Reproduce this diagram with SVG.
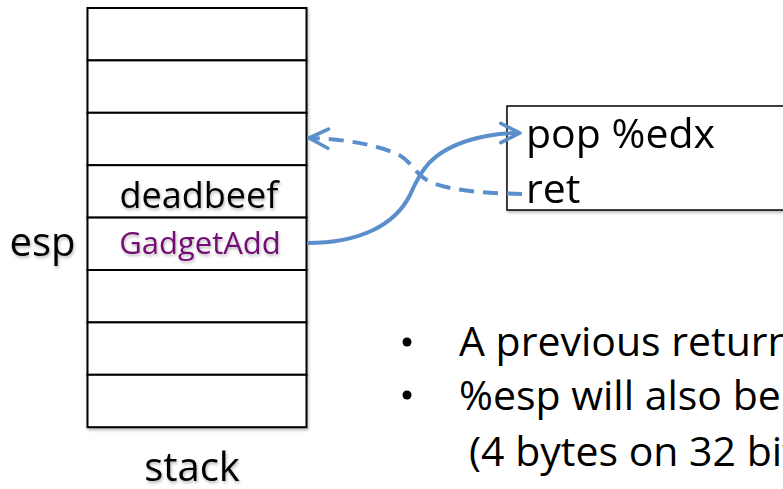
<svg xmlns="http://www.w3.org/2000/svg" width="783" height="489" viewBox="0 0 783 489">
  <defs>
    <filter id="shadow" x="-10%" y="-10%" width="130%" height="140%">
      <feDropShadow dx="1" dy="2" stdDeviation="1.5" flood-color="#000" flood-opacity="0.28"/>
    </filter>
    <marker id="chevron" viewBox="0 0 10 10" refX="9" refY="5" markerWidth="6" markerHeight="6" orient="auto-start-reverse" markerUnits="strokeWidth">
      <path d="M1,1 L9,5 L1,9" fill="none" stroke="#5b8fcb" stroke-width="1.5" stroke-linecap="round" stroke-linejoin="round"/>
    </marker>
    <style>
      text { font-family: "Open Sans", "Liberation Sans", sans-serif; fill: #000; }
      .cell { fill: #fff; stroke: #000; stroke-width: 2; }
      .label { font-size: 40px; }
      .code { font-size: 41px; }
      .bullet { font-size: 41px; }
      .link { fill: none; stroke: #5b8fcb; stroke-width: 4; stroke-linecap: butt; }
      .shade { filter: url(#shadow); }
    </style>
  </defs>

  <!-- stack of 8 slots -->
  <g id="stack" class="shade">
    <rect class="cell" x="87.5" y="8" width="219" height="52.4"/>
    <rect class="cell" x="87.5" y="60.4" width="219" height="52.4"/>
    <rect class="cell" x="87.5" y="112.8" width="219" height="52.4"/>
    <rect class="cell" x="87.5" y="165.2" width="219" height="52.4"/>
    <rect class="cell" x="87.5" y="217.6" width="219" height="52.4"/>
    <rect class="cell" x="87.5" y="270" width="219" height="52.4"/>
    <rect class="cell" x="87.5" y="322.4" width="219" height="52.4"/>
    <rect class="cell" x="87.5" y="374.8" width="219" height="52.4"/>
  </g>
  <g id="slot-deadbeef" class="shade">
    <text x="199" y="208" text-anchor="middle" style="font-size:36px">deadbeef</text>
  </g>
  <g id="slot-gadget" class="shade">
    <text x="200" y="254" text-anchor="middle" style="font-size:31px;fill:#730d73">GadgetAdd</text>
  </g>
  <g id="esp-label" class="shade">
    <text class="label" x="42.5" y="256" text-anchor="middle">esp</text>
  </g>
  <g id="stack-label" class="shade">
    <text class="label" x="192" y="481" text-anchor="middle">stack</text>
  </g>

  <!-- gadget code box -->
  <g id="gadget" class="shade">
    <rect x="507" y="106" width="290" height="104" fill="#fff" stroke="#000" stroke-width="1.5"/>
    <text class="code" x="526" y="148">pop %edx</text>
    <text class="code" x="526" y="203">ret</text>
  </g>

  <!-- notes -->
  <g id="notes">
    <circle cx="407" cy="342" r="4.5" fill="#000"/>
    <text class="bullet" x="459" y="356">A previous return</text>
    <circle cx="407" cy="395" r="4.5" fill="#000"/>
    <text class="bullet" x="459" y="410">%esp will also be</text>
    <text class="bullet" x="469" y="466">(4 bytes on 32 bit</text>
  </g>

  <!-- connectors -->
  <g id="connectors">
    <path class="link" d="M307,243 C360,243 395,225 410,195 C420,172 430,152 470,140 C490,134 505,133 520,133" marker-end="url(#chevron)"/>
    <path class="link" d="M522,194 C490,193 455,192 430,182 C412,172 412,160 395,153 C370,143 340,139 309,138" stroke-dasharray="15 9" marker-end="url(#chevron)"/>
  </g>
</svg>
